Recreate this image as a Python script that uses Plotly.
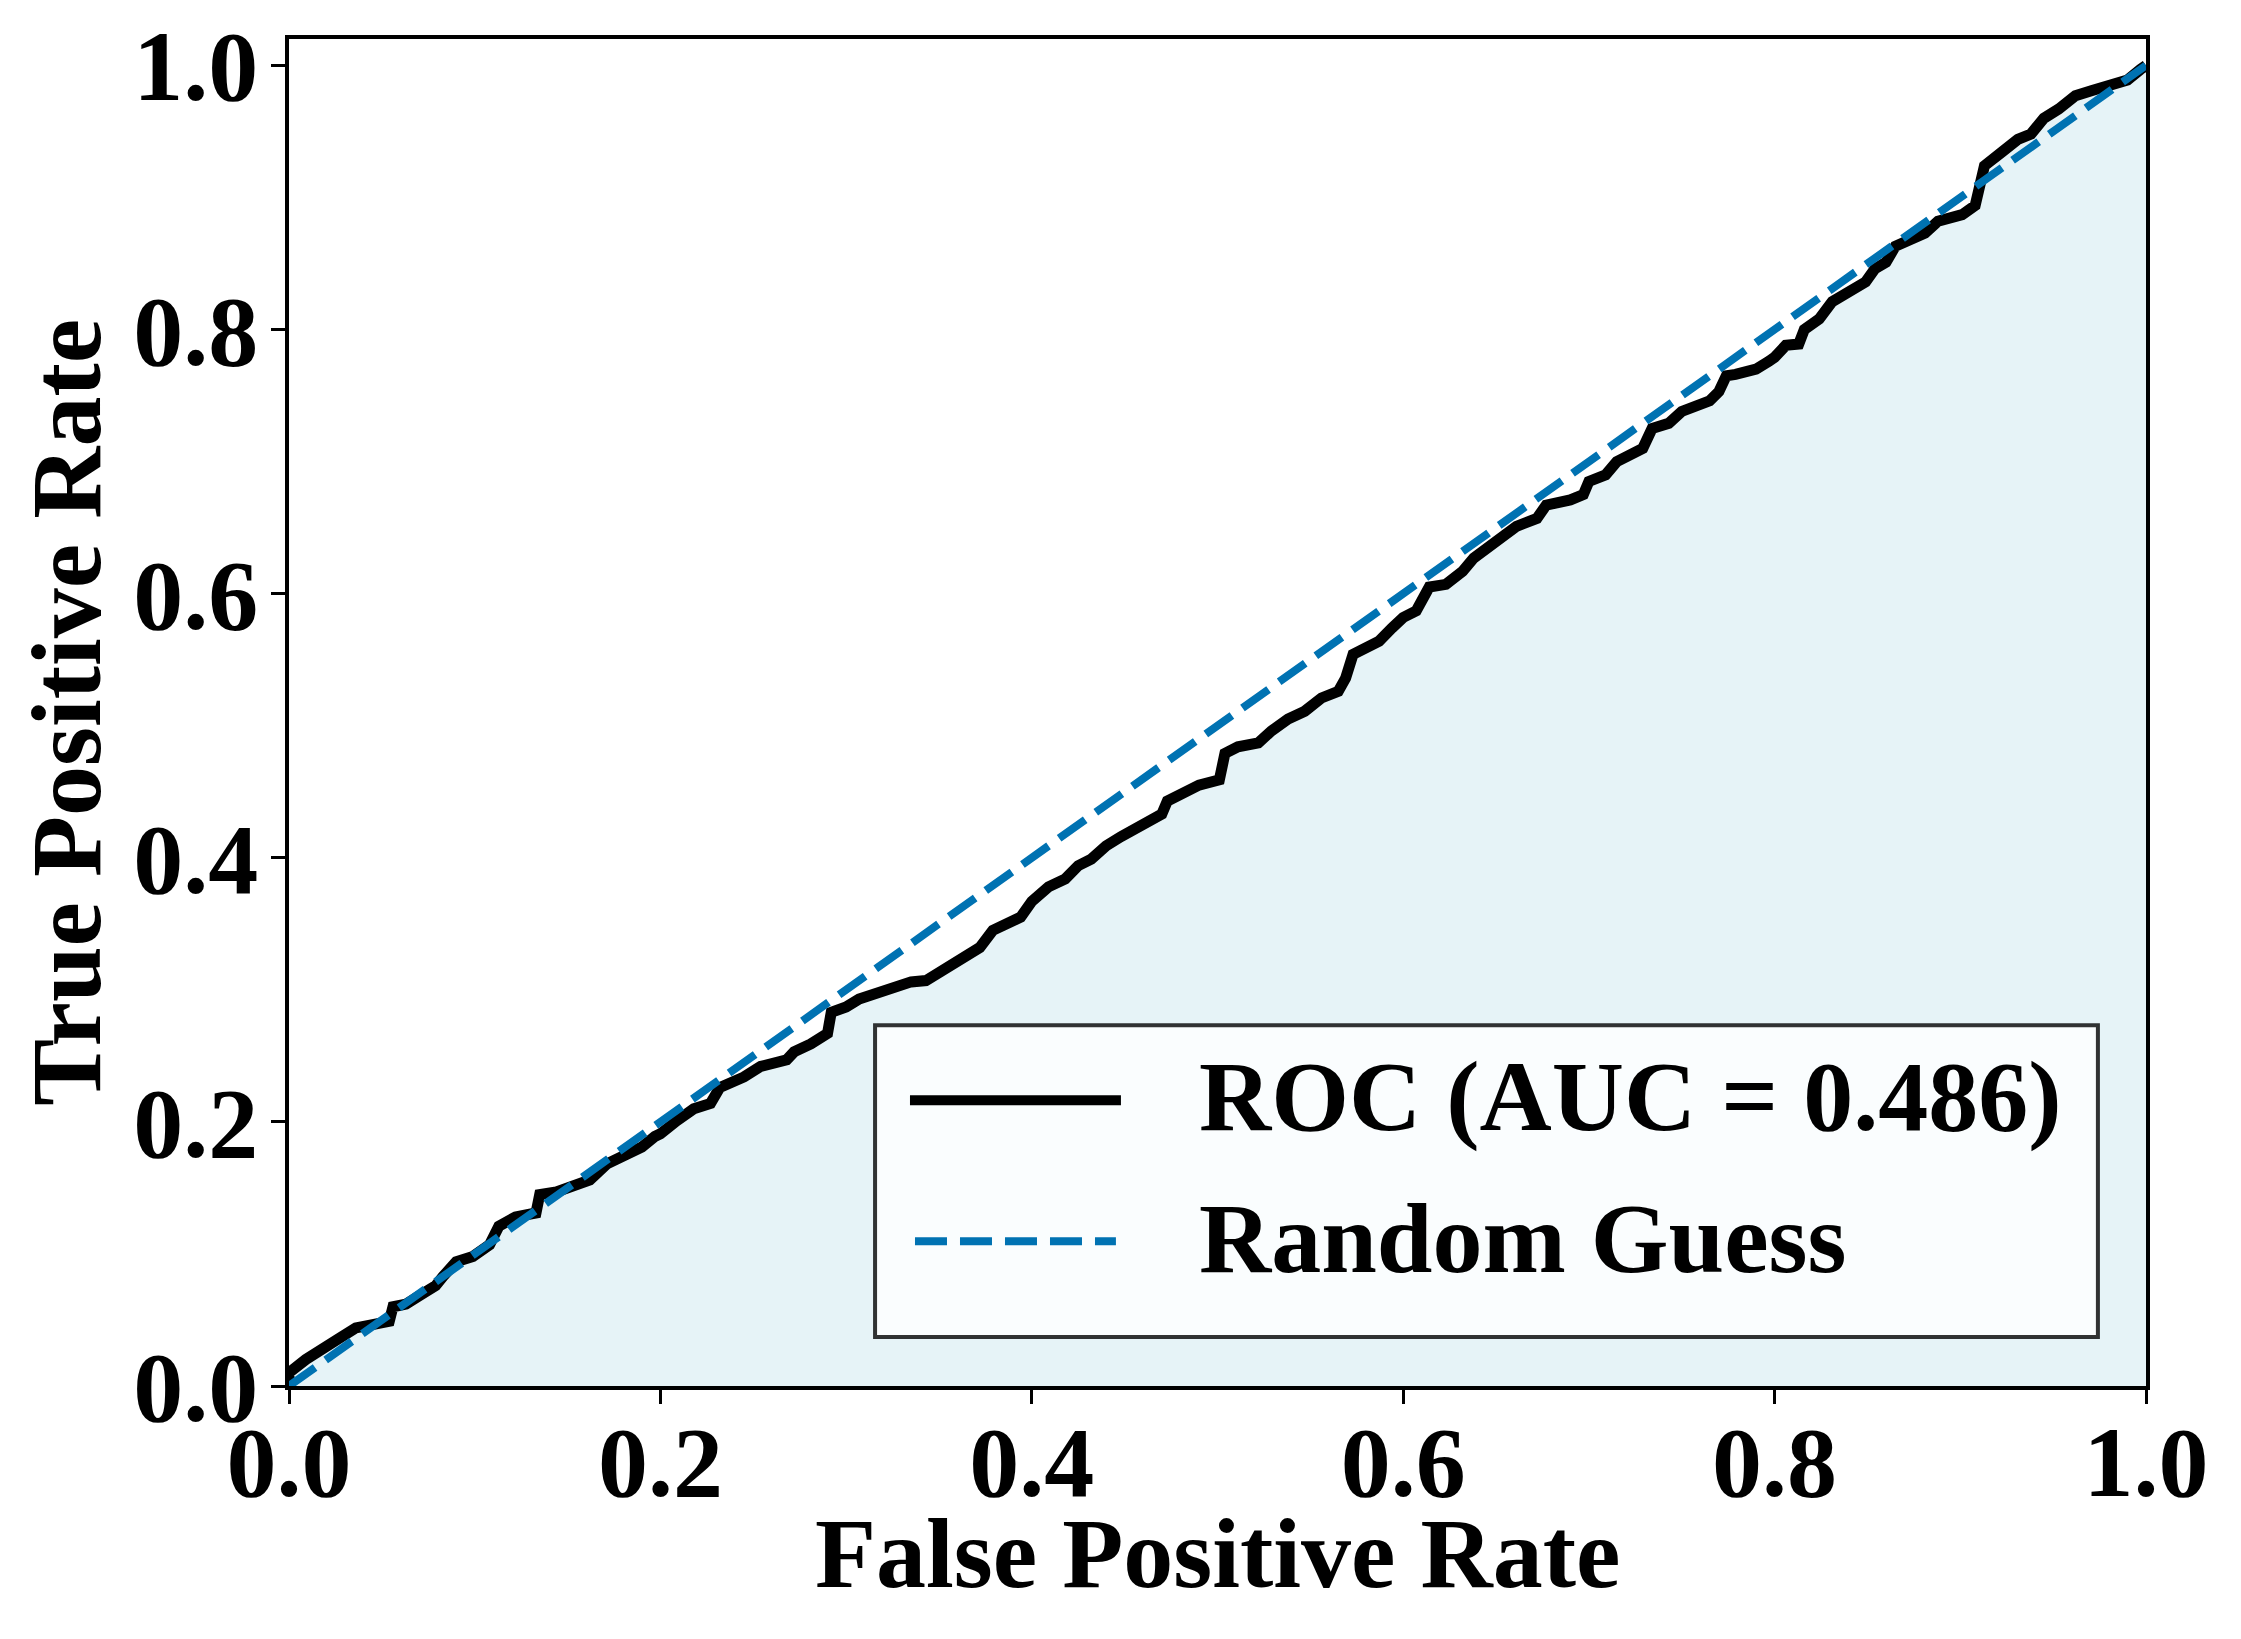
import plotly.graph_objects as go

# ROC curve values
fpr = [0.000, 0.000, 0.009, 0.018, 0.027, 0.036, 0.048, 0.054, 0.056, 0.063, 0.072, 0.079, 0.083,
       0.090, 0.099, 0.108, 0.113, 0.122, 0.133, 0.135, 0.144, 0.153, 0.162, 0.171, 0.180,
       0.190, 0.197, 0.200, 0.209, 0.218, 0.227, 0.232, 0.245, 0.254, 0.268, 0.272, 0.281,
       0.290, 0.292, 0.300, 0.307, 0.316, 0.326, 0.335, 0.343, 0.352, 0.358, 0.365, 0.372,
       0.379, 0.388, 0.394, 0.400, 0.409, 0.418, 0.425, 0.432, 0.440, 0.448, 0.455, 0.463,
       0.470, 0.473, 0.482, 0.490, 0.501, 0.504, 0.511, 0.522, 0.529, 0.538, 0.547, 0.556,
       0.565, 0.569, 0.573, 0.580, 0.587, 0.594, 0.600, 0.607, 0.611, 0.614, 0.623, 0.632,
       0.638, 0.647, 0.654, 0.661, 0.672, 0.677, 0.690, 0.697, 0.700, 0.709, 0.715, 0.722,
       0.729, 0.734, 0.743, 0.750, 0.757, 0.765, 0.770, 0.774, 0.779, 0.790, 0.797, 0.800,
       0.806, 0.813, 0.816, 0.824, 0.831, 0.840, 0.849, 0.854, 0.860, 0.865, 0.872, 0.881,
       0.888, 0.894, 0.901, 0.908, 0.910, 0.913, 0.922, 0.931, 0.938, 0.945, 0.953, 0.962,
       0.971, 0.980, 0.985, 0.990, 0.997, 1.000]
tpr = [0.000, 0.010, 0.020, 0.027, 0.036, 0.044, 0.046, 0.049, 0.060, 0.062, 0.070, 0.076, 0.083,
       0.094, 0.098, 0.107, 0.121, 0.128, 0.131, 0.145, 0.147, 0.151, 0.156, 0.168, 0.174,
       0.181, 0.189, 0.191, 0.201, 0.210, 0.214, 0.226, 0.234, 0.242, 0.247, 0.253, 0.259,
       0.267, 0.283, 0.287, 0.293, 0.297, 0.302, 0.306, 0.307, 0.315, 0.322, 0.327, 0.332,
       0.345, 0.350, 0.355, 0.367, 0.378, 0.384, 0.394, 0.399, 0.409, 0.416, 0.422, 0.429,
       0.433, 0.443, 0.450, 0.455, 0.459, 0.479, 0.484, 0.487, 0.496, 0.505, 0.511, 0.521,
       0.526, 0.536, 0.554, 0.559, 0.564, 0.574, 0.582, 0.587, 0.597, 0.605, 0.607, 0.617,
       0.627, 0.636, 0.642, 0.651, 0.657, 0.667, 0.671, 0.675, 0.685, 0.690, 0.700, 0.705,
       0.710, 0.725, 0.729, 0.738, 0.742, 0.746, 0.753, 0.765, 0.766, 0.770, 0.776, 0.779,
       0.788, 0.789, 0.800, 0.808, 0.821, 0.828, 0.836, 0.846, 0.851, 0.863, 0.868, 0.873,
       0.882, 0.885, 0.887, 0.894, 0.909, 0.924, 0.934, 0.944, 0.948, 0.960, 0.967, 0.977,
       0.981, 0.984, 0.987, 0.989, 0.997, 1.000]

diag_x = [0.0, 1.0]
diag_y = [0.0, 1.0]

auc_value = 0.486
roc_label = f"ROC (AUC = {auc_value:.3f})"
diag_label = "Random Guess"
x_title = "False Positive Rate"
y_title = "True Positive Rate"
tick_vals = [0.0, 0.2, 0.4, 0.6, 0.8, 1.0]
tick_text = ["0.0", "0.2", "0.4", "0.6", "0.8", "1.0"]

FONT = "Liberation Serif, Times New Roman, serif"
BLUE = "#0072B2"
BIG = dict(family=FONT, size=100, color="black", weight="bold")

fig = go.Figure()
fig.add_trace(go.Scatter(
    x=fpr, y=tpr, mode="lines", name=roc_label,
    line=dict(color="black", width=11),
    fill="tozeroy", fillcolor="rgba(173,216,230,0.3)",
    showlegend=False,
))
fig.add_trace(go.Scatter(
    x=diag_x, y=diag_y, mode="lines", name=diag_label,
    line=dict(color=BLUE, width=8, dash="32px,13px"),
    showlegend=False,
))

axis_common = dict(
    showline=True, linecolor="black", linewidth=3.5, mirror=True,
    ticks="outside", ticklen=14, tickwidth=3, tickcolor="black",
    showgrid=False, zeroline=False,
    tickvals=tick_vals, ticktext=tick_text,
    tickfont=BIG,
)

fig.update_xaxes(range=[0, 1], ticklabelstandoff=-28, **axis_common)
fig.update_yaxes(range=[0, 1.02], ticklabelstandoff=-7, **axis_common)

# Axis titles
fig.add_annotation(x=0.5, y=-0.124, xref="paper", yref="paper", text=x_title, showarrow=False,
                   xanchor="center", yanchor="middle", font=BIG)
fig.add_annotation(x=-0.120, y=0.5, xref="paper", yref="paper", text=y_title, showarrow=False,
                   xanchor="center", yanchor="middle", textangle=-90, font=BIG)

# Legend box (drawn manually to match the reference's large legend)
fig.add_shape(type="rect", xref="x", yref="y", x0=0.3156, x1=0.9741, y0=0.0371, y1=0.2731,
              line=dict(color="rgba(0,0,0,0.8)", width=4), fillcolor="rgba(255,255,255,0.8)",
              layer="above")
fig.add_shape(type="line", xref="x", yref="y", x0=0.3344, x1=0.4480, y0=0.2163, y1=0.2163,
              line=dict(color="black", width=10), layer="above")
fig.add_shape(type="line", xref="x", yref="y", x0=0.3371, x1=0.4453, y0=0.1097, y1=0.1097,
              line=dict(color=BLUE, width=8, dash="32px,13px"), layer="above")
fig.add_annotation(x=0.4890, y=0.2193, xref="x", yref="y", text=roc_label, showarrow=False,
                   xanchor="left", yanchor="middle", font=BIG)
fig.add_annotation(x=0.4890, y=0.1117, xref="x", yref="y", text=diag_label, showarrow=False,
                   xanchor="left", yanchor="middle", font=BIG)

fig.update_layout(
    width=2241, height=1639,
    margin=dict(l=289, r=95, t=39, b=253),
    paper_bgcolor="white", plot_bgcolor="white",
    font=dict(family=FONT, color="black"),
    showlegend=False,
)

fig.write_html("out.html")
